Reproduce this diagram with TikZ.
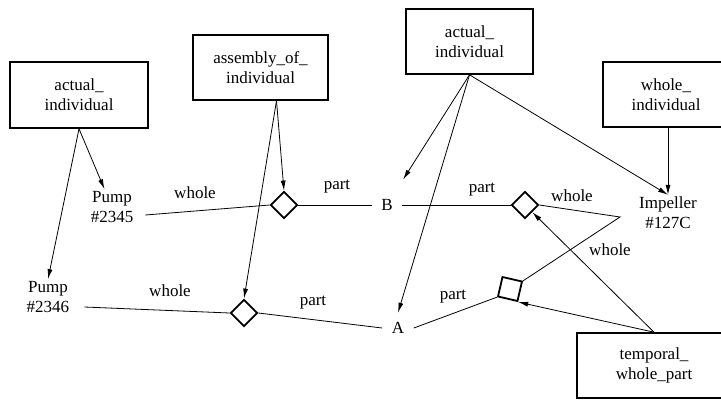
\documentclass[tikz,border=0pt]{standalone}
\usepackage{fontspec}
\setmainfont{Liberation Serif}
\usetikzlibrary{shapes.geometric,arrows.meta,calc}

\tikzset{
  typebox/.style={draw, line width=1.6pt, align=center, inner sep=0pt,
    font=\fontsize{17}{20}\selectfont},
  item/.style={align=center, inner sep=2pt, font=\fontsize{17}{20}\selectfont},
  point/.style={inner sep=9.5pt, font=\fontsize{17}{20}\selectfont},
  rel/.style={draw, diamond, line width=1.8pt, minimum size=27pt, inner sep=0pt},
  tempbox/.style={draw, rectangle, line width=1.8pt, minimum size=20pt, inner sep=0pt, rotate=-13},
  conn/.style={line width=0.8pt},
  arr/.style={line width=0.8pt, -{Latex[length=10pt,width=5pt]}},
  lbl/.style={inner sep=0pt, font=\fontsize{17}{20}\selectfont}
}

\begin{document}
\begin{tikzpicture}[x=1pt, y=-1pt]
  \useasboundingbox (0,0) rectangle (721,400);
  \clip (0,0) rectangle (721,400);

  % type boxes
  \node[typebox, minimum width=138pt, minimum height=66pt] (ai1) at (79,95) {actual\_\\individual};
  \node[typebox, minimum width=135pt, minimum height=65pt] (asm) at (260.5,67.5) {assembly\_of\_\\individual};
  \node[typebox, minimum width=127pt, minimum height=65pt] (ai2) at (469.5,41.5) {actual\_\\individual};
  \node[typebox, minimum width=126pt, minimum height=65pt] (whi) at (666,94.5) {whole\_\\individual};
  \node[typebox, minimum width=154pt, minimum height=65pt] (twp) at (654,365.5) {temporal\_\\whole\_part};

  % individuals
  \node[item] (p1) at (112,207) {Pump\\\#2345};
  \node[item] (p2) at (48,297) {Pump\\\#2346};
  \node[item] (imp) at (668,213) {Impeller\\\#127C};
  \node[point] (B) at (387,205) {B};
  \node[point] (A) at (398,328) {A};

  % relation markers
  \node[rel] (d1) at (284,205) {};
  \node[rel] (d2) at (525,205) {};
  \node[rel] (d3) at (244,313) {};
  \node[tempbox] (sq) at (510,289) {};
  \coordinate (J) at (620,217);

  % whole/part links
  \draw[conn] ($(p1.east)+(10,8)$) -- (d1.west);
  \draw[conn] (d1.east) -- (B.west);
  \draw[conn] (B.east) -- (d2.west);
  \draw[conn] (d2.east) -- (J) -- (sq.north east);
  \draw[conn] ($(p2.east)+(13,10)$) -- (d3.west);
  \draw[conn] (d3.east) -- (A.west);
  \draw[conn] (A.east) -- (sq.south west);

  % classification arrows
  \draw[arr] (ai1.south) -- (p1);
  \draw[arr] (ai1.south) -- (p2.north);
  \draw[arr] ($(asm.south)+(16,0)$) -- (d1.north);
  \draw[arr] ($(asm.south)+(16,0)$) -- (d3.north);
  \draw[arr, shorten >=12pt] (ai2.south) -- (B);
  \draw[arr] (ai2.south) -- (A.north);
  \draw[arr] (ai2.south) -- (imp.north);
  \draw[arr] (whi.south -| imp.north) -- (imp.north);
  \draw[arr] (twp.north) -- (d2);
  \draw[arr] (twp.north) -- (sq.south east);

  % role labels
  \node[lbl] at (195,193) {whole};
  \node[lbl] at (337,187) {part};
  \node[lbl] at (482,190) {part};
  \node[lbl] at (572,196) {whole};
  \node[lbl] at (610,250) {whole};
  \node[lbl] at (453,297) {part};
  \node[lbl] at (313,303) {part};
  \node[lbl] at (170,291) {whole};
\end{tikzpicture}
\end{document}
